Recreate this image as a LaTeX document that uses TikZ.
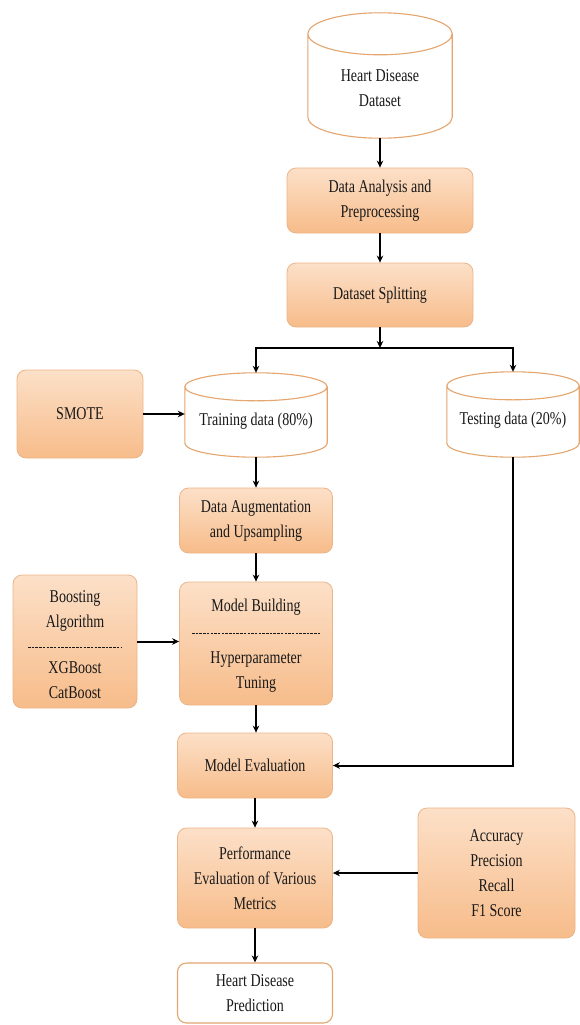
\documentclass[tikz,border=0pt]{standalone}
\usepackage{fontspec}
\setmainfont{Liberation Serif}[FakeStretch=0.78]
\usetikzlibrary{arrows.meta,calc}
\definecolor{boxtop}{RGB}{252,224,200}
\definecolor{boxbot}{RGB}{247,188,138}
\definecolor{boxline}{RGB}{236,180,136}
\definecolor{cylline}{RGB}{228,165,110}
\definecolor{ink}{RGB}{25,25,25}
\newcommand{\drawcyl}[2]{%
  \draw[cyl] let \p1=(#1.north west), \p2=(#1.south east), \n1={(\x2-\x1)/2} in
    (\x1,\y1-#2pt) -- (\x1,\y2+#2pt) arc[start angle=180,end angle=360,x radius=\n1,y radius=#2pt]
    -- (\x2,\y1-#2pt) arc[start angle=0,end angle=360,x radius=\n1,y radius=#2pt];
}
\begin{document}
\begin{tikzpicture}[x=1pt,y=1pt,
  lab/.style={font=\fontsize{18}{25}\selectfont, text=ink, align=center, inner sep=0pt},
  pbox/.style={rectangle, rounded corners=9pt, draw=boxline, line width=0.8pt, top color=boxtop, bottom color=boxbot, lab},
  wbox/.style={rectangle, rounded corners=9pt, draw=cylline, line width=1.1pt, fill=white, lab},
  frame/.style={rectangle, inner sep=0pt, draw=none},
  arr/.style={draw=black, line width=2pt, -{Stealth[length=7pt,width=6.5pt]}},
  sep/.style={draw=ink, line width=0.8pt, dash pattern=on 2.5pt off 1.2pt},
  cyl/.style={draw=cylline, line width=1.1pt, fill=white}
]
\useasboundingbox (0,0) rectangle (579,-1025);

% Heart disease dataset
\node[frame, minimum width=144pt, minimum height=125pt] (hd) at (380,-75.5) {};
\drawcyl{hd}{21}
\node[lab] (hdt) at (380,-88) {Heart Disease\\Dataset};

\node[pbox, minimum width=186pt, minimum height=65pt] (da) at (380,-200.5) {Data Analysis and\\Preprocessing};
\node[pbox, minimum width=186pt, minimum height=64pt] (ds) at (380,-295) {Dataset Splitting};
\coordinate (j) at (380,-348);

% training / testing
\node[frame, minimum width=142pt, minimum height=84pt] (tr) at (256,-415) {};
\drawcyl{tr}{14}
\node[lab] (trt) at (256,-421) {Training data (80\%)};
\node[frame, minimum width=132pt, minimum height=85pt] (te) at (513,-414.5) {};
\drawcyl{te}{14}
\node[lab] (tet) at (513,-420) {Testing data (20\%)};

\node[pbox, minimum width=126pt, minimum height=88pt] (sm) at (80,-414) {SMOTE};
\node[pbox, minimum width=153pt, minimum height=65pt] (au) at (256,-520.5) {Data Augmentation\\and Upsampling};

% model building
\node[pbox, minimum width=153pt, minimum height=123pt] (mb) at (256,-643.5) {};
\node[lab] (mbt1) at (256,-607) {Model Building};
\draw[sep] (192,-633) -- (321,-633);
\node[lab] (mbt2) at (256,-672.5) {Hyperparameter\\Tuning};

\node[pbox, minimum width=124pt, minimum height=133pt] (bo) at (75,-641.5) {};
\node[lab] (bot1) at (75,-611) {Boosting\\Algorithm};
\draw[sep] (28,-647) -- (122,-647);
\node[lab] (bot2) at (75,-680) {XGBoost\\CatBoost};

\node[pbox, minimum width=155pt, minimum height=65pt] (me) at (255,-765.5) {Model Evaluation};
\node[pbox, minimum width=155pt, minimum height=100pt] (pf) at (255,-878) {Performance\\Evaluation of Various\\Metrics};
\node[pbox, minimum width=157pt, minimum height=130pt] (mt) at (496.5,-873) {Accuracy\\Precision\\Recall\\F1 Score};
\node[wbox, minimum width=155pt, minimum height=60pt] (pr) at (255,-993) {Heart Disease\\Prediction};

% connectors
\draw[arr] (hd.south) -- (da.north);
\draw[arr] (da.south) -- (ds.north);
\draw[arr] (ds.south) -- (j);
\draw[arr] (j) -- (j -| tr.north) -- (tr.north);
\draw[arr] (j) -- (j -| te.north) -- (te.north);
\draw[arr] (sm.east) -- (sm.east -| tr.west);
\draw[arr] (tr.south) -- (tr.south |- au.north);
\draw[arr] (au.south) -- (au.south |- mb.north);
\draw[arr] (bo.east) -- (bo.east -| mb.west);
\draw[arr] (mb.south) -- (mb.south |- me.north);
\draw[arr] (te.south) -- (te.south |- me.east) -- (me.east);
\draw[arr] (me.south) -- (pf.north);
\draw[arr] (mt.west) -- (mt.west -| pf.east);
\draw[arr] (pf.south) -- (pr.north);
\end{tikzpicture}
\end{document}
